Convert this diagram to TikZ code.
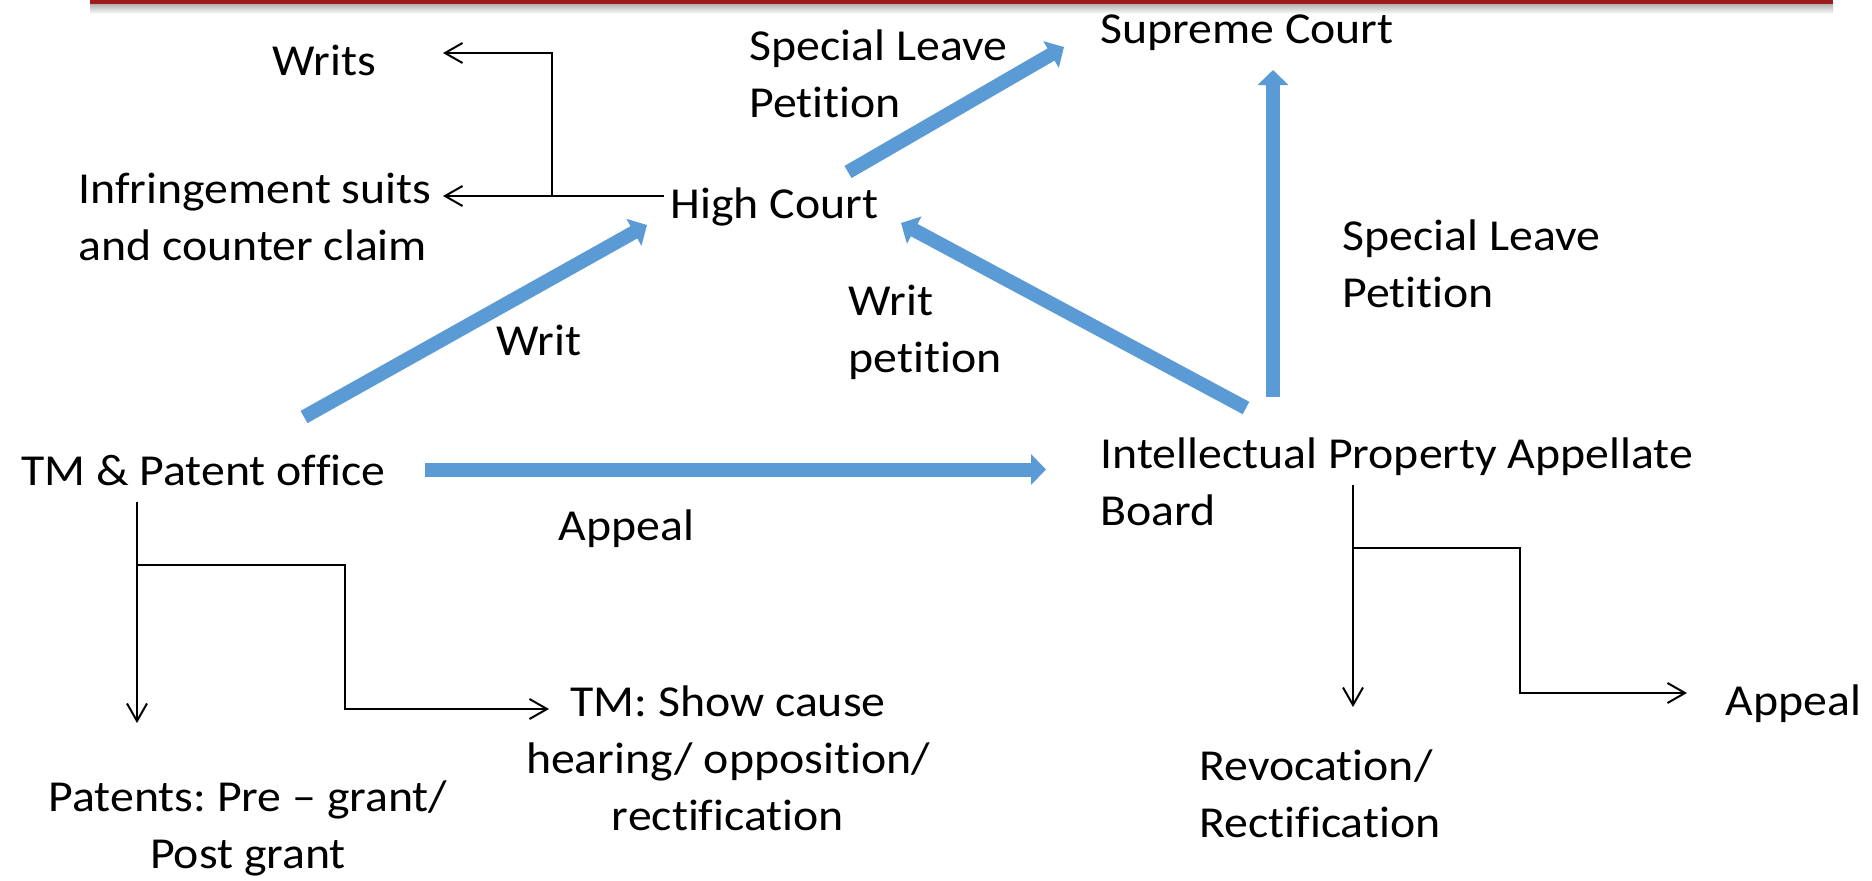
\documentclass[tikz,border=0pt]{standalone}
\usepackage{fontspec}
\setmainfont{Carlito}[FakeStretch=1.08, Ligatures={NoCommon}]
\usetikzlibrary{arrows.meta}
\definecolor{bluearr}{HTML}{5B9BD5}
\definecolor{topred}{HTML}{9C1C1C}
\frenchspacing
\begin{document}
\begin{tikzpicture}[x=0.4pt,y=-0.4pt,
  lbl/.style={inner sep=0pt, anchor=base west, align=left, font=\fontsize{17.7pt}{22.8pt}\selectfont},
  clbl/.style={inner sep=0pt, anchor=base, align=center, font=\fontsize{17.7pt}{22.8pt}\selectfont},
  big/.style={draw=bluearr, line width=5.6pt, -{Triangle[width=12pt,length=6pt]}},
  thinarr/.style={draw=black, line width=0.8pt, -{Straight Barb[length=7pt,width=8pt]}},
  thinline/.style={draw=black, line width=0.8pt}]
\useasboundingbox (0,0) rectangle (1872,880);
\fill[white] (0,0) rectangle (1872,880);
% top rule with shadow
\shade[top color=black!30, bottom color=white] (90,4) rectangle (1833,14);
\fill[topred] (90,0) rectangle (1833,4);

% labels (anchor = baseline of the last line)
\node[lbl] (writs) at (272,75) {Writs};
\node[lbl] (infr) at (78,260) {Infringement suits\\and counter claim};
\node[lbl] (hc) at (670,218) {High Court};
\node[lbl] (slp1) at (749,117) {Special Leave\\Petition};
\node[lbl] (sc) at (1100,43) {Supreme Court};
\node[lbl] (writ) at (496,355) {Writ};
\node[lbl] (writp) at (848,372) {Writ\\petition};
\node[lbl] (slp2) at (1342,307) {Special Leave\\Petition};
\node[lbl] (tmpo) at (21,485) {TM \& Patent office};
\node[lbl] (appeal1) at (558,540) {Appeal};
\node[lbl] (ipab) at (1100,525) {Intellectual Property Appellate\\Board};
\node[clbl] (tmsc) at (728,830) {TM: Show cause\\hearing/ opposition/\\rectification};
\node[clbl] (patents) at (248,868) {Patents: Pre – grant/\\Post grant};
\node[lbl] (rev) at (1199,837) {Revocation/\\Rectification};
\node[lbl] (appeal2) at (1725,715) {Appeal};

% coordinates
\coordinate (hcL) at (664,196);
\coordinate (jW) at (552,196);
\coordinate (writsTip) at (443,53);
\coordinate (infrTip) at (443,196);
\coordinate (tmTop) at (137,502);
\coordinate (tmJ) at (137,565);
\coordinate (tmDown) at (137,723);
\coordinate (tmC) at (345,709);
\coordinate (tmR) at (549,709);
\coordinate (ipTop) at (1353,485);
\coordinate (ipJ) at (1353,548);
\coordinate (ipDown) at (1353,707);
\coordinate (ipC) at (1520,693);
\coordinate (ipR) at (1687,693);

\coordinate (tmOut) at (304,417);
\coordinate (hcIn) at (647,225);
\coordinate (hcOut) at (848,172);
\coordinate (scIn1) at (1064,47);
\coordinate (ipOut1) at (1246,408);
\coordinate (hcIn2) at (901,223);
\coordinate (ipOut2) at (1273,397);
\coordinate (scIn2) at (1273,70);
\coordinate (tmOut2) at (425,469.5);
\coordinate (ipIn) at (1046,469.5);

% thin connectors
\draw[thinarr] (hcL) -- (infrTip);
\draw[thinarr] (jW) |- (writsTip);
\draw[thinarr] (tmTop) -- (tmDown);
\draw[thinarr] (tmJ) -| (tmC) -- (tmR);
\draw[thinarr] (ipTop) -- (ipDown);
\draw[thinarr] (ipJ) -| (ipC) -- (ipR);

% thick blue connectors
\draw[big] (tmOut) -- (hcIn);
\draw[big] (hcOut) -- (scIn1);
\draw[big] (ipOut1) -- (hcIn2);
\draw[big] (ipOut2) -- (scIn2);
\draw[big] (tmOut2) -- (ipIn);
\end{tikzpicture}
\end{document}
